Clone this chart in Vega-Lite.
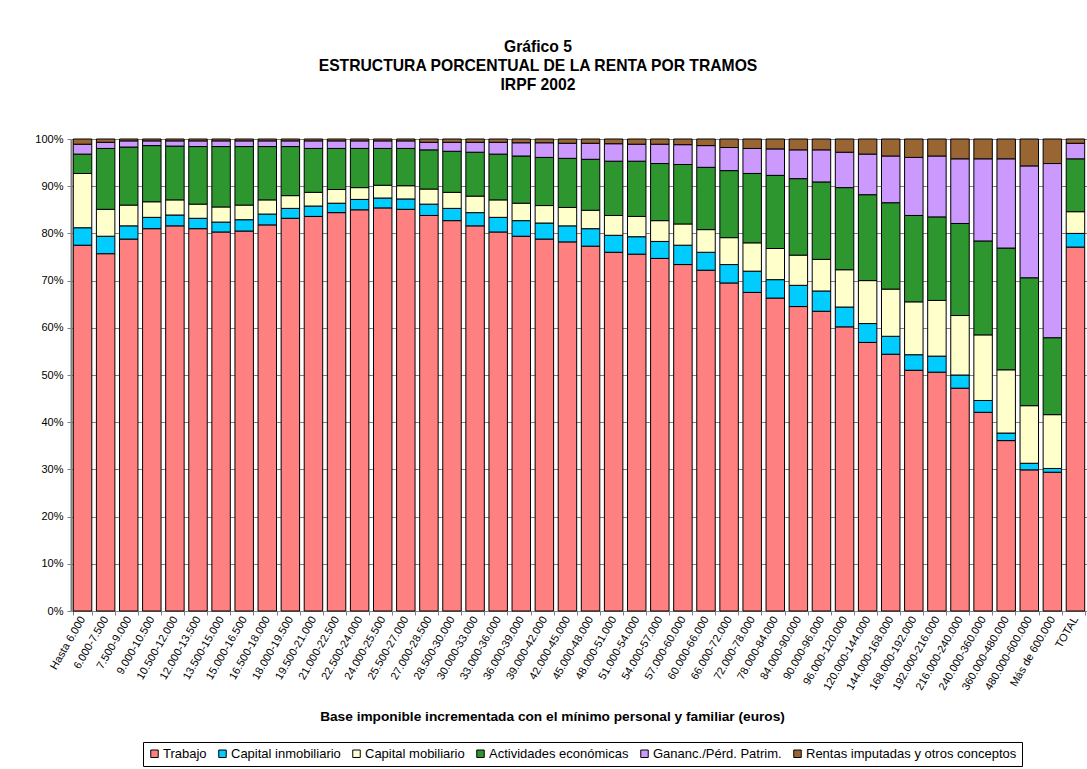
{
  "$schema": "https://vega.github.io/schema/vega-lite/v6.json",
  "autosize": {"type": "none"},
  "padding": {"left": 71, "top": 139, "right": 0, "bottom": 158},
  "width": 1016,
  "height": 472,
  "background": "white",
  "config": {"font": "Liberation Sans", "view": {"stroke": null}},
  "title": {
    "text": ["Gráfico 5", "ESTRUCTURA PORCENTUAL DE LA RENTA POR TRAMOS", "IRPF 2002"],
    "fontSize": 15.7,
    "fontWeight": "bold",
    "font": "Liberation Sans",
    "color": "black",
    "anchor": "middle",
    "dx": -41,
    "offset": 39,
    "lineHeight": 19
  },
  "datasets": {
    "conceptos": [
      {"key": "T", "concepto": "Trabajo", "idx": 1},
      {"key": "CI", "concepto": "Capital inmobiliario", "idx": 2},
      {"key": "CM", "concepto": "Capital mobiliario", "idx": 3},
      {"key": "AE", "concepto": "Actividades económicas", "idx": 4},
      {"key": "GP", "concepto": "Gananc./Pérd. Patrim.", "idx": 5},
      {"key": "R", "concepto": "Rentas imputadas y otros conceptos", "idx": 6}
    ]
  },
  "data": {
    "values": [
      {"tramo": "Hasta 6.000", "T": 77.5, "CI": 3.7, "CM": 11.5, "AE": 4.1, "GP": 2.1, "R": 1.1},
      {"tramo": "6.000-7.500", "T": 75.7, "CI": 3.7, "CM": 5.7, "AE": 12.9, "GP": 1.3, "R": 0.7},
      {"tramo": "7.500-9.000", "T": 78.8, "CI": 2.8, "CM": 4.4, "AE": 12.3, "GP": 1.3, "R": 0.4},
      {"tramo": "9.000-10.500", "T": 81.0, "CI": 2.4, "CM": 3.3, "AE": 11.9, "GP": 1.0, "R": 0.4},
      {"tramo": "10.500-12.000", "T": 81.6, "CI": 2.3, "CM": 3.2, "AE": 11.4, "GP": 1.1, "R": 0.4},
      {"tramo": "12.000-13.500", "T": 81.0, "CI": 2.2, "CM": 3.0, "AE": 12.2, "GP": 1.2, "R": 0.4},
      {"tramo": "13.500-15.000", "T": 80.3, "CI": 2.1, "CM": 3.2, "AE": 12.8, "GP": 1.2, "R": 0.4},
      {"tramo": "15.000-16.500", "T": 80.5, "CI": 2.4, "CM": 3.1, "AE": 12.4, "GP": 1.2, "R": 0.4},
      {"tramo": "16.500-18.000", "T": 81.8, "CI": 2.3, "CM": 3.0, "AE": 11.3, "GP": 1.2, "R": 0.4},
      {"tramo": "18.000-19.500", "T": 83.2, "CI": 2.1, "CM": 2.7, "AE": 10.4, "GP": 1.2, "R": 0.4},
      {"tramo": "19.500-21.000", "T": 83.6, "CI": 2.2, "CM": 2.9, "AE": 9.3, "GP": 1.6, "R": 0.4},
      {"tramo": "21.000-22.500", "T": 84.4, "CI": 2.0, "CM": 2.9, "AE": 8.7, "GP": 1.6, "R": 0.4},
      {"tramo": "22.500-24.000", "T": 85.0, "CI": 2.2, "CM": 2.5, "AE": 8.3, "GP": 1.6, "R": 0.4},
      {"tramo": "24.000-25.500", "T": 85.4, "CI": 2.1, "CM": 2.7, "AE": 7.8, "GP": 1.6, "R": 0.4},
      {"tramo": "25.500-27.000", "T": 85.1, "CI": 2.2, "CM": 2.8, "AE": 7.9, "GP": 1.6, "R": 0.4},
      {"tramo": "27.000-28.500", "T": 83.8, "CI": 2.4, "CM": 3.2, "AE": 8.3, "GP": 1.6, "R": 0.7},
      {"tramo": "28.500-30.000", "T": 82.7, "CI": 2.6, "CM": 3.4, "AE": 8.7, "GP": 1.9, "R": 0.7},
      {"tramo": "30.000-33.000", "T": 81.6, "CI": 2.8, "CM": 3.5, "AE": 9.3, "GP": 2.1, "R": 0.7},
      {"tramo": "33.000-36.000", "T": 80.3, "CI": 3.1, "CM": 3.7, "AE": 9.7, "GP": 2.5, "R": 0.7},
      {"tramo": "36.000-39.000", "T": 79.4, "CI": 3.3, "CM": 3.7, "AE": 10.0, "GP": 2.8, "R": 0.8},
      {"tramo": "39.000-42.000", "T": 78.8, "CI": 3.4, "CM": 3.7, "AE": 10.2, "GP": 3.1, "R": 0.8},
      {"tramo": "42.000-45.000", "T": 78.2, "CI": 3.4, "CM": 3.9, "AE": 10.4, "GP": 3.2, "R": 0.9},
      {"tramo": "45.000-48.000", "T": 77.3, "CI": 3.7, "CM": 3.9, "AE": 10.8, "GP": 3.4, "R": 0.9},
      {"tramo": "48.000-51.000", "T": 76.0, "CI": 3.6, "CM": 4.2, "AE": 11.5, "GP": 3.7, "R": 1.0},
      {"tramo": "51.000-54.000", "T": 75.6, "CI": 3.7, "CM": 4.3, "AE": 11.7, "GP": 3.6, "R": 1.1},
      {"tramo": "54.000-57.000", "T": 74.7, "CI": 3.6, "CM": 4.4, "AE": 12.1, "GP": 4.1, "R": 1.1},
      {"tramo": "57.000-60.000", "T": 73.4, "CI": 4.1, "CM": 4.5, "AE": 12.6, "GP": 4.2, "R": 1.2},
      {"tramo": "60.000-66.000", "T": 72.2, "CI": 3.8, "CM": 4.8, "AE": 13.2, "GP": 4.6, "R": 1.4},
      {"tramo": "66.000-72.000", "T": 69.5, "CI": 3.9, "CM": 5.7, "AE": 14.2, "GP": 4.9, "R": 1.8},
      {"tramo": "72.000-78.000", "T": 67.5, "CI": 4.5, "CM": 6.0, "AE": 14.7, "GP": 5.3, "R": 2.0},
      {"tramo": "78.000-84.000", "T": 66.3, "CI": 3.9, "CM": 6.6, "AE": 15.5, "GP": 5.6, "R": 2.1},
      {"tramo": "84.000-90.000", "T": 64.5, "CI": 4.5, "CM": 6.4, "AE": 16.2, "GP": 6.1, "R": 2.3},
      {"tramo": "90.000-96.000", "T": 63.5, "CI": 4.3, "CM": 6.7, "AE": 16.4, "GP": 6.8, "R": 2.3},
      {"tramo": "96.000-120.000", "T": 60.2, "CI": 4.2, "CM": 7.9, "AE": 17.4, "GP": 7.5, "R": 2.8},
      {"tramo": "120.000-144.000", "T": 56.9, "CI": 4.0, "CM": 9.1, "AE": 18.2, "GP": 8.6, "R": 3.2},
      {"tramo": "144.000-168.000", "T": 54.4, "CI": 3.8, "CM": 10.0, "AE": 18.3, "GP": 9.9, "R": 3.6},
      {"tramo": "168.000-192.000", "T": 51.0, "CI": 3.3, "CM": 11.2, "AE": 18.3, "GP": 12.3, "R": 3.9},
      {"tramo": "192.000-216.000", "T": 50.6, "CI": 3.4, "CM": 11.8, "AE": 17.7, "GP": 12.9, "R": 3.6},
      {"tramo": "216.000-240.000", "T": 47.2, "CI": 2.8, "CM": 12.6, "AE": 19.5, "GP": 13.7, "R": 4.2},
      {"tramo": "240.000-360.000", "T": 42.1, "CI": 2.5, "CM": 13.9, "AE": 19.9, "GP": 17.4, "R": 4.2},
      {"tramo": "360.000-480.000", "T": 36.1, "CI": 1.6, "CM": 13.4, "AE": 25.8, "GP": 18.9, "R": 4.2},
      {"tramo": "480.000-600.000", "T": 29.9, "CI": 1.4, "CM": 12.2, "AE": 27.1, "GP": 23.7, "R": 5.7},
      {"tramo": "Más de 600.000", "T": 29.4, "CI": 0.8, "CM": 11.4, "AE": 16.3, "GP": 36.9, "R": 5.2},
      {"tramo": "TOTAL", "T": 77.1, "CI": 2.9, "CM": 4.6, "AE": 11.2, "GP": 3.3, "R": 0.9}
    ]
  },
  "transform": [
    {"fold": ["T", "CI", "CM", "AE", "GP", "R"], "as": ["key", "pct"]},
    {"lookup": "key", "from": {"data": {"name": "conceptos"}, "key": "key", "fields": ["concepto", "idx"]}}
  ],
  "mark": {"type": "bar", "stroke": "black", "strokeWidth": 1},
  "encoding": {
    "x": {
      "field": "tramo",
      "type": "nominal",
      "sort": null,
      "scale": {"paddingInner": 0.2, "paddingOuter": 0.1},
      "axis": {
        "title": "Base imponible incrementada con el mínimo personal y familiar (euros)",
        "titleFontSize": 13.7,
        "titleFontWeight": "bold",
        "titleColor": "black",
        "titleX": 481,
        "titleY": 105,
        "titleAlign": "center",
        "titleBaseline": "middle",
        "labelAngle": -60,
        "labelFontSize": 11,
        "labelColor": "black",
        "labelPadding": 2,
        "labelOverlap": false,
        "tickBand": "extent",
        "tickColor": "#808080",
        "tickSize": 4,
        "domainColor": "#808080",
        "grid": false
      }
    },
    "y": {
      "field": "pct",
      "type": "quantitative",
      "stack": "normalize",
      "scale": {"domain": [0, 1]},
      "axis": {
        "title": null,
        "format": ".0%",
        "values": [0, 0.1, 0.2, 0.3, 0.4, 0.5, 0.6, 0.7, 0.8, 0.9, 1],
        "labelFontSize": 11,
        "labelColor": "black",
        "labelPadding": 4,
        "tickColor": "#808080",
        "tickSize": 4,
        "domainColor": "#808080",
        "domainWidth": 2,
        "grid": true,
        "gridColor": "#808080",
        "gridOpacity": 1,
        "gridWidth": 1
      }
    },
    "color": {
      "field": "concepto",
      "type": "nominal",
      "scale": {
        "domain": ["Trabajo", "Capital inmobiliario", "Capital mobiliario", "Actividades económicas", "Gananc./Pérd. Patrim.", "Rentas imputadas y otros conceptos"],
        "range": ["#FF8080", "#00CCFF", "#FFFFCC", "#2E962E", "#CC99FF", "#996633"]
      },
      "legend": {
        "orient": "none",
        "legendX": 72,
        "legendY": 603,
        "direction": "horizontal",
        "title": null,
        "strokeColor": "black",
        "padding": 5,
        "labelFontSize": 13,
        "labelColor": "black",
        "labelLimit": 400,
        "symbolType": "square",
        "symbolSize": 56,
        "symbolStrokeColor": "black",
        "symbolStrokeWidth": 1,
        "symbolOpacity": 1,
        "columnPadding": 9,
        "labelOffset": 2
      }
    },
    "order": {"field": "idx", "type": "quantitative", "sort": "ascending"}
  }
}
